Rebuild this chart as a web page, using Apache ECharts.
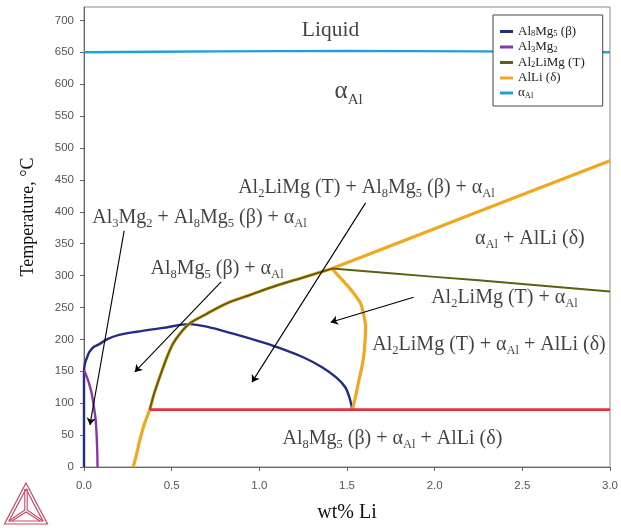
<!DOCTYPE html>
<html><head><meta charset="utf-8">
<script src="https://cdn.jsdelivr.net/npm/echarts@6/dist/echarts.min.js"></script>
<style>html,body{margin:0;padding:0;background:#fff}#c{width:621px;height:528px}</style>
</head><body><div id="c"></div>
<script>
// ---- data (x = wt% Li, y = Temperature °C) ----
const xTicks = [0, 0.5, 1.0, 1.5, 2.0, 2.5, 3.0];
const yTicks = [0, 50, 100, 150, 200, 250, 300, 350, 400, 450, 500, 550, 600, 650, 700];

const seriesNames = ['Al_{8}Mg_{5} (β)', 'Al_{3}Mg_{2}', 'Al_{2}LiMg (T)', 'AlLi (δ)', 'α_{Al}'];

const betaLine = [[0,0],[0,150],[0.005,162],[0.015,170],[0.03,180],[0.055,188],[0.09,193],[0.13,200],[0.2,207],[0.3,212],[0.45,218],[0.6,224],[0.7,220],[0.85,209],[1.0,197],[1.1,188],[1.25,172],[1.36,156],[1.44,140],[1.49,125],[1.515,108],[1.53,90]];
const al3mg2Line = [[0,152],[0.015,142],[0.03,130],[0.044,115],[0.056,95],[0.066,75],[0.072,50],[0.076,20],[0.077,0]];
const tPhaseLine = [[0.375,90],[0.40,115],[0.432,141],[0.47,170],[0.507,193],[0.55,210],[0.602,225],[0.7,240],[0.81,256],[0.95,270],[1.095,284],[1.25,297],[1.415,311],
  null,
  [1.415,311],[2.0,298],[2.5,287],[3.0,275]];
const deltaLine = [[0.28,0],[0.30,20],[0.318,42],[0.345,68],[0.375,90],[0.40,115],[0.432,141],[0.47,170],[0.507,193],[0.55,210],[0.602,225],[0.7,240],[0.81,256],[0.95,270],[1.095,284],[1.25,297],[1.415,311],
  null,
  [1.415,311],[2.2,395],[3.0,480],
  null,
  [1.415,311],[1.45,300],[1.51,282],[1.55,268],[1.578,256],[1.596,238],[1.606,219],[1.603,198],[1.597,178],[1.585,157],[1.568,136],[1.55,112],[1.53,90]];
const alphaLine = [[0,650],[0.75,651.5],[1.5,652],[2.25,651.5],[3,650]];
const invariantLine = [[0.375,90],[3.0,90]];

const arrowLines = [
  [[0.229,370],[0.034,66]],
  [[0.782,290],[0.29,149]],
  [[1.606,414],[0.958,133]],
  [[1.88,266],[1.407,227]]
];

const regionLabels = [
  [1.611, 437, 'Al_{2}LiMg (T) + Al_{8}Mg_{5} (β) + α_{Al}'],
  [0.659, 390, 'Al_{3}Mg_{2} + Al_{8}Mg_{5} (β) + α_{Al}'],
  [2.543, 357, 'α_{Al} + AlLi (δ)'],
  [0.759, 310, 'Al_{8}Mg_{5} (β) + α_{Al}'],
  [2.398, 265, 'Al_{2}LiMg (T) + α_{Al}'],
  [2.31, 191, 'Al_{2}LiMg (T) + α_{Al} + AlLi (δ)'],
  [1.759, 44, 'Al_{8}Mg_{5} (β) + α_{Al} + AlLi (δ)']
];
const liquidLabel = [[1.406, 685, 'Liquid']];
const bigLabel = [[1.509, 588, 'α_{Al}']];

// ---- helpers ----
function toRich(s, n, sub) {
  const parts = s.split(/_\{([^}]*)\}/);
  let out = '';
  parts.forEach((p, i) => { if (p !== '') out += '{' + (i % 2 ? sub : n) + '|' + p + '}'; });
  return out;
}
const SERIF = '"Liberation Serif","Times New Roman",serif';
const colors = ['#232b84', '#8c35a8', '#5e5e14', '#f0a820', '#1ea0d8'];
const widths = [2.4, 2.4, 2.0, 3.2, 2.4];

function labelSeries(list, size, subSize) {
  return {
    type: 'scatter', z: 7, silent: true, symbolSize: 1, itemStyle: {color: 'rgba(0,0,0,0)'},
    data: list.map(l => ({value: [l[0], l[1]], name: l[2]})),
    label: {
      show: true, position: 'inside', color: '#111',
      formatter: p => toRich(p.name, 'n', 's'),
      rich: {
        n: {fontFamily: SERIF, fontSize: size, lineHeight: Math.round(size * 1.22), color: '#111'},
        s: {fontFamily: SERIF, fontSize: subSize, lineHeight: subSize + 1, verticalAlign: 'bottom', color: '#111'}
      }
    }
  };
}

const chart = echarts.init(document.getElementById('c'), null, {renderer: 'canvas'});

const lineSeries = [betaLine, al3mg2Line, tPhaseLine, deltaLine, alphaLine].map((d, i) => ({
  name: seriesNames[i],
  type: 'line',
  data: d,
  showSymbol: false,
  symbol: 'none',
  smooth: 0.3,
  connectNulls: false,
  z: i === 2 ? 4 : 3,
  lineStyle: {color: colors[i], width: widths[i]},
  itemStyle: {color: colors[i]},
  silent: true
}));

const option = {
  animation: false,
  backgroundColor: '#fff',
  grid: {left: 84, right: 9, top: 7, bottom: 61, show: true, borderColor: '#8a8a8a', borderWidth: 1},
  legend: {
    data: seriesNames,
    orient: 'vertical',
    left: 493, top: 15,
    icon: 'rect', itemWidth: 13, itemHeight: 3, itemGap: 2, itemTextGap: 4,
    padding: [10, 18, 6, 7],
    borderColor: '#444', borderWidth: 1, backgroundColor: '#fff',
    selectedMode: false,
    formatter: name => toRich(name, 'ln', 'ls'),
    textStyle: {
      color: '#222',
      rich: {
        ln: {fontFamily: SERIF, fontSize: 13, lineHeight: 14, color: '#222'},
        ls: {fontFamily: SERIF, fontSize: 8.5, lineHeight: 9, verticalAlign: 'bottom', color: '#222'}
      }
    }
  },
  xAxis: {
    type: 'value', min: 0, max: 3, interval: 0.5,
    name: 'wt% Li', nameLocation: 'middle', nameGap: 36,
    nameTextStyle: {fontFamily: SERIF, fontSize: 20, color: '#111'},
    axisLine: {lineStyle: {color: '#666'}},
    axisTick: {show: true, length: 4, lineStyle: {color: '#666'}},
    axisLabel: {margin: 13, color: '#555', fontFamily: '"Liberation Sans",Arial,sans-serif', fontSize: 11.5,
      formatter: v => v.toFixed(1)},
    splitLine: {show: false}
  },
  yAxis: {
    type: 'value', min: 0, max: 721,
    axisLine: {show: true, lineStyle: {color: '#666'}},
    axisTick: {show: true, length: 4, customValues: yTicks, lineStyle: {color: '#666'}},
    axisLabel: {margin: 10, color: '#555', fontFamily: '"Liberation Sans",Arial,sans-serif', fontSize: 11.5,
      customValues: yTicks},
    splitLine: {show: false}
  },
  series: lineSeries.concat([
    {
      name: 'invariant', type: 'line', data: invariantLine, showSymbol: false, symbol: 'none',
      lineStyle: {color: '#e2323e', width: 2.6}, z: 5, silent: true
    },
    {
      type: 'lines', coordinateSystem: 'cartesian2d', z: 6, silent: true,
      symbol: ['none', 'arrow'], symbolSize: 7,
      lineStyle: {color: '#000', width: 1.1, opacity: 1},
      data: arrowLines.map(a => ({coords: a}))
    },
    labelSeries(regionLabels, 20, 12.5),
    labelSeries(liquidLabel, 21.5, 13),
    labelSeries(bigLabel, 25, 15)
  ]),
  graphic: [
    {
      type: 'text', x: 28, y: 217, rotation: Math.PI / 2,
      style: {text: 'Temperature, °C', font: '18px ' + SERIF, fill: '#111', align: 'center', verticalAlign: 'middle'}
    },
    {
      type: 'group', x: 0, y: 0, silent: true,
      children: [
        {type: 'polygon', shape: {points: [[26,483],[4.5,524],[47.5,524]]}, style: {fill: 'none', stroke: '#c24a68', lineWidth: 1.2}},
        {type: 'polygon', shape: {points: [[26,489],[9,521],[43,521]]}, style: {fill: 'none', stroke: '#c24a68', lineWidth: 1.2}},
        {type: 'polyline', shape: {points: [[24.8,489],[24.8,510],[9,521]]}, style: {fill: 'none', stroke: '#c24a68', lineWidth: 1.1}},
        {type: 'polyline', shape: {points: [[27.2,489],[27.2,510],[43,521]]}, style: {fill: 'none', stroke: '#c24a68', lineWidth: 1.1}},
        {type: 'polyline', shape: {points: [[12,521],[26,512],[40,521]]}, style: {fill: 'none', stroke: '#c24a68', lineWidth: 1.1}}
      ]
    }
  ]
};
chart.setOption(option);
</script>
</body></html>
